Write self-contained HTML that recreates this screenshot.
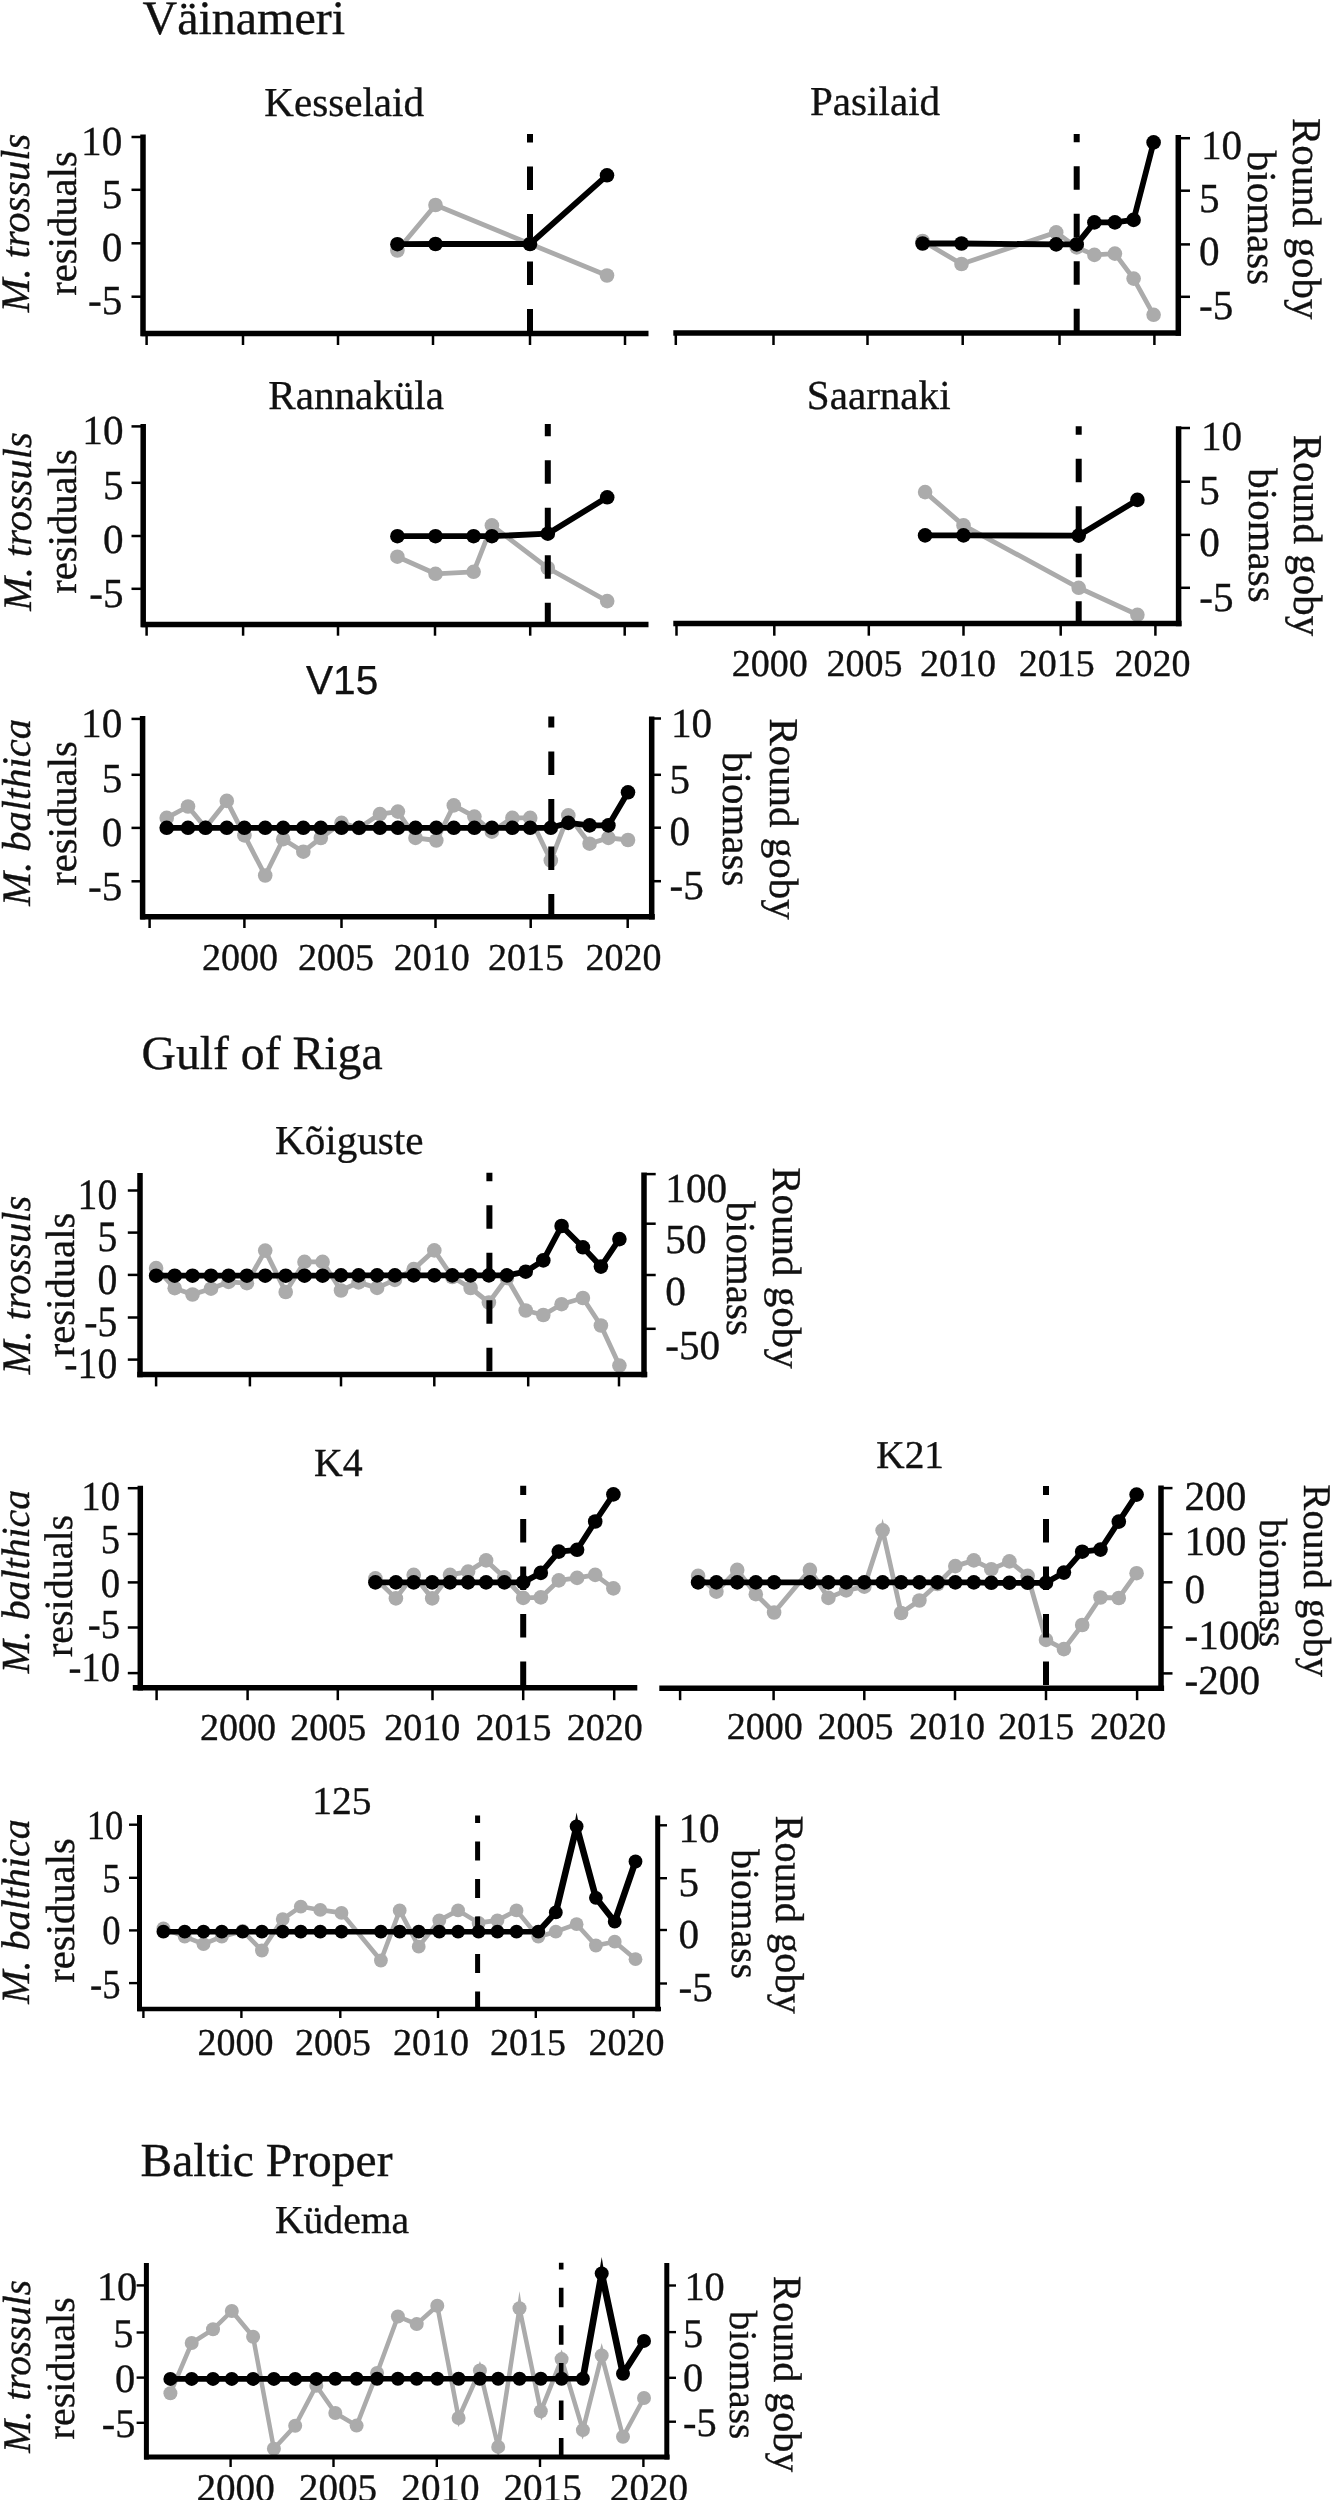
<!DOCTYPE html>
<html lang="en">
<head>
<meta charset="utf-8">
<title>Round goby biomass and bivalve residuals</title>
<style>
html,body{margin:0;padding:0;background:#fff;}
body{width:1333px;height:2500px;overflow:hidden;}
svg{display:block;will-change:transform;}
svg text{stroke:#111;stroke-width:0.35px;}
</style>
</head>
<body>
<svg width="1333" height="2500" viewBox="0 0 1333 2500" font-family='"Liberation Serif", "Times New Roman", serif' fill="#111" text-rendering="geometricPrecision">
<text x="142.5" y="34" font-size="48" text-anchor="start">Väinameri</text>
<text x="141.5" y="1068.9" font-size="47.7" text-anchor="start">Gulf of Riga</text>
<text x="140.5" y="2176.4" font-size="47.5" text-anchor="start">Baltic Proper</text>
<g>
<path d="M397.4 250.5 L435.5 205 L607 275.5" fill="none" stroke="#ababab" stroke-width="4.8" stroke-linejoin="round" stroke-linecap="round"/>
<circle cx="397.4" cy="250.5" r="7.3" fill="#ababab"/>
<circle cx="435.5" cy="205" r="7.3" fill="#ababab"/>
<circle cx="607" cy="275.5" r="7.3" fill="#ababab"/>
<line x1="530" y1="134" x2="530" y2="333.6" stroke="#000" stroke-width="6" stroke-dasharray="23.5 24" stroke-dashoffset="15"/>
<path d="M397.4 244.2 L435.5 244 L530 244 L607 175.3" fill="none" stroke="#000" stroke-width="5.8" stroke-linejoin="round" stroke-linecap="round"/>
<circle cx="397.4" cy="244.2" r="7.3" fill="#000"/>
<circle cx="435.5" cy="244" r="7.3" fill="#000"/>
<circle cx="530" cy="244" r="7.3" fill="#000"/>
<circle cx="607" cy="175.3" r="7.3" fill="#000"/>
<line x1="141.5" y1="333.6" x2="648.5" y2="333.6" stroke="#000" stroke-width="5.5"/>
<line x1="146.6" y1="333.6" x2="146.6" y2="345" stroke="#000" stroke-width="2.5"/>
<line x1="243" y1="333.6" x2="243" y2="345" stroke="#000" stroke-width="2.5"/>
<line x1="338" y1="333.6" x2="338" y2="345" stroke="#000" stroke-width="2.5"/>
<line x1="433" y1="333.6" x2="433" y2="345" stroke="#000" stroke-width="2.5"/>
<line x1="530" y1="333.6" x2="530" y2="345" stroke="#000" stroke-width="2.5"/>
<line x1="625" y1="333.6" x2="625" y2="345" stroke="#000" stroke-width="2.5"/>
<line x1="143" y1="134.6" x2="143" y2="336.35" stroke="#000" stroke-width="5.5"/>
<line x1="131.5" y1="137" x2="142" y2="137" stroke="#000" stroke-width="2.5"/>
<line x1="131.5" y1="189.8" x2="142" y2="189.8" stroke="#000" stroke-width="2.5"/>
<line x1="131.5" y1="243.3" x2="142" y2="243.3" stroke="#000" stroke-width="2.5"/>
<line x1="131.5" y1="296.7" x2="142" y2="296.7" stroke="#000" stroke-width="2.5"/>
<text x="122.3" y="155" font-size="41.2" text-anchor="end">10</text>
<text x="122.3" y="207.8" font-size="41.2" text-anchor="end">5</text>
<text x="122.3" y="260.7" font-size="41.2" text-anchor="end">0</text>
<text x="122.3" y="314" font-size="41.2" text-anchor="end">-5</text>
<text x="264.3" y="115.5" font-size="41.1" text-anchor="start">Kesselaid</text>
<text transform="translate(29.4 223) rotate(-90)" font-size="40.5" text-anchor="middle" font-style="italic">M. trossuls</text>
<text transform="translate(75.6 223.5) rotate(-90)" font-size="40.7" text-anchor="middle">residuals</text>
</g>
<g>
<path d="M922.6 241 L961.5 264 L1056.2 232.4 L1076.7 247.4 L1094.4 254.9 L1114.9 253.6 L1133.6 278.6 L1153.6 314.8" fill="none" stroke="#ababab" stroke-width="4.8" stroke-linejoin="round" stroke-linecap="round"/>
<circle cx="922.6" cy="241" r="7.3" fill="#ababab"/>
<circle cx="961.5" cy="264" r="7.3" fill="#ababab"/>
<circle cx="1056.2" cy="232.4" r="7.3" fill="#ababab"/>
<circle cx="1076.7" cy="247.4" r="7.3" fill="#ababab"/>
<circle cx="1094.4" cy="254.9" r="7.3" fill="#ababab"/>
<circle cx="1114.9" cy="253.6" r="7.3" fill="#ababab"/>
<circle cx="1133.6" cy="278.6" r="7.3" fill="#ababab"/>
<circle cx="1153.6" cy="314.8" r="7.3" fill="#ababab"/>
<line x1="1076.7" y1="134" x2="1076.7" y2="333.1" stroke="#000" stroke-width="6" stroke-dasharray="23.5 24" stroke-dashoffset="15.3"/>
<path d="M922.6 243.5 L961.5 243.5 L1056.2 244.4 L1076.7 244.4 L1094.4 222.4 L1114.9 222.4 L1133.6 219.9 L1153.6 142.4" fill="none" stroke="#000" stroke-width="5.8" stroke-linejoin="round" stroke-linecap="round"/>
<circle cx="922.6" cy="243.5" r="7.3" fill="#000"/>
<circle cx="961.5" cy="243.5" r="7.3" fill="#000"/>
<circle cx="1056.2" cy="244.4" r="7.3" fill="#000"/>
<circle cx="1076.7" cy="244.4" r="7.3" fill="#000"/>
<circle cx="1094.4" cy="222.4" r="7.3" fill="#000"/>
<circle cx="1114.9" cy="222.4" r="7.3" fill="#000"/>
<circle cx="1133.6" cy="219.9" r="7.3" fill="#000"/>
<circle cx="1153.6" cy="142.4" r="7.3" fill="#000"/>
<line x1="673.3" y1="333.1" x2="1181" y2="333.1" stroke="#000" stroke-width="5.5"/>
<line x1="675.8" y1="333.1" x2="675.8" y2="345" stroke="#000" stroke-width="2.5"/>
<line x1="773.5" y1="333.1" x2="773.5" y2="345" stroke="#000" stroke-width="2.5"/>
<line x1="867.5" y1="333.1" x2="867.5" y2="345" stroke="#000" stroke-width="2.5"/>
<line x1="962.7" y1="333.1" x2="962.7" y2="345" stroke="#000" stroke-width="2.5"/>
<line x1="1059.5" y1="333.1" x2="1059.5" y2="345" stroke="#000" stroke-width="2.5"/>
<line x1="1154.4" y1="333.1" x2="1154.4" y2="345" stroke="#000" stroke-width="2.5"/>
<line x1="1178.3" y1="135" x2="1178.3" y2="335.85" stroke="#000" stroke-width="5.5"/>
<line x1="1180" y1="138.2" x2="1190" y2="138.2" stroke="#000" stroke-width="2.5"/>
<line x1="1180" y1="190.7" x2="1190" y2="190.7" stroke="#000" stroke-width="2.5"/>
<line x1="1180" y1="244.4" x2="1190" y2="244.4" stroke="#000" stroke-width="2.5"/>
<line x1="1180" y1="296.8" x2="1190" y2="296.8" stroke="#000" stroke-width="2.5"/>
<text x="1201" y="159" font-size="41.2" text-anchor="start">10</text>
<text x="1199" y="211.8" font-size="41.2" text-anchor="start">5</text>
<text x="1199" y="265" font-size="41.2" text-anchor="start">0</text>
<text x="1199" y="318.7" font-size="41.2" text-anchor="start">-5</text>
<text x="810" y="115" font-size="41.1" text-anchor="start">Pasilaid</text>
<text transform="translate(1292.5 218.7) rotate(90)" font-size="41" text-anchor="middle">Round goby</text>
<text transform="translate(1247.5 218) rotate(90)" font-size="41" text-anchor="middle">biomass</text>
</g>
<g>
<path d="M397.4 556.7 L435.5 573.8 L473.6 571.8 L491.9 525.4 L547.8 568 L607.2 601.1" fill="none" stroke="#ababab" stroke-width="4.8" stroke-linejoin="round" stroke-linecap="round"/>
<circle cx="397.4" cy="556.7" r="7.3" fill="#ababab"/>
<circle cx="435.5" cy="573.8" r="7.3" fill="#ababab"/>
<circle cx="473.6" cy="571.8" r="7.3" fill="#ababab"/>
<circle cx="491.9" cy="525.4" r="7.3" fill="#ababab"/>
<circle cx="547.8" cy="568" r="7.3" fill="#ababab"/>
<circle cx="607.2" cy="601.1" r="7.3" fill="#ababab"/>
<line x1="547.8" y1="423.9" x2="547.8" y2="624.4" stroke="#000" stroke-width="6" stroke-dasharray="23.5 24" stroke-dashoffset="11.1"/>
<path d="M397.4 536.2 L435.5 536.2 L473.6 536.2 L491.9 536.2 L547.8 533.7 L607.2 497.3" fill="none" stroke="#000" stroke-width="5.8" stroke-linejoin="round" stroke-linecap="round"/>
<circle cx="397.4" cy="536.2" r="7.3" fill="#000"/>
<circle cx="435.5" cy="536.2" r="7.3" fill="#000"/>
<circle cx="473.6" cy="536.2" r="7.3" fill="#000"/>
<circle cx="491.9" cy="536.2" r="7.3" fill="#000"/>
<circle cx="547.8" cy="533.7" r="7.3" fill="#000"/>
<circle cx="607.2" cy="497.3" r="7.3" fill="#000"/>
<line x1="141.5" y1="624.4" x2="648.5" y2="624.4" stroke="#000" stroke-width="5.5"/>
<line x1="146.6" y1="624.4" x2="146.6" y2="635.7" stroke="#000" stroke-width="2.5"/>
<line x1="243.1" y1="624.4" x2="243.1" y2="635.7" stroke="#000" stroke-width="2.5"/>
<line x1="338" y1="624.4" x2="338" y2="635.7" stroke="#000" stroke-width="2.5"/>
<line x1="435" y1="624.4" x2="435" y2="635.7" stroke="#000" stroke-width="2.5"/>
<line x1="530.2" y1="624.4" x2="530.2" y2="635.7" stroke="#000" stroke-width="2.5"/>
<line x1="624.7" y1="624.4" x2="624.7" y2="635.7" stroke="#000" stroke-width="2.5"/>
<line x1="143.2" y1="423.9" x2="143.2" y2="627.15" stroke="#000" stroke-width="5.5"/>
<line x1="131.5" y1="426.4" x2="142" y2="426.4" stroke="#000" stroke-width="2.5"/>
<line x1="131.5" y1="482.8" x2="142" y2="482.8" stroke="#000" stroke-width="2.5"/>
<line x1="131.5" y1="536" x2="142" y2="536" stroke="#000" stroke-width="2.5"/>
<line x1="131.5" y1="588.8" x2="142" y2="588.8" stroke="#000" stroke-width="2.5"/>
<text x="123.5" y="443.5" font-size="41.2" text-anchor="end">10</text>
<text x="123.5" y="499.1" font-size="41.2" text-anchor="end">5</text>
<text x="123.5" y="553" font-size="41.2" text-anchor="end">0</text>
<text x="123.5" y="606.9" font-size="41.2" text-anchor="end">-5</text>
<text x="268.3" y="408.9" font-size="41.1" text-anchor="start">Rannaküla</text>
<text transform="translate(30.5 521.6) rotate(-90)" font-size="40.5" text-anchor="middle" font-style="italic">M. trossuls</text>
<text transform="translate(76.3 521.5) rotate(-90)" font-size="40.7" text-anchor="middle">residuals</text>
</g>
<g>
<path d="M925.1 492.1 L963.5 525.4 L1078.7 587.8 L1137.4 614.8" fill="none" stroke="#ababab" stroke-width="4.8" stroke-linejoin="round" stroke-linecap="round"/>
<circle cx="925.1" cy="492.1" r="7.3" fill="#ababab"/>
<circle cx="963.5" cy="525.4" r="7.3" fill="#ababab"/>
<circle cx="1078.7" cy="587.8" r="7.3" fill="#ababab"/>
<circle cx="1137.4" cy="614.8" r="7.3" fill="#ababab"/>
<line x1="1078.7" y1="426.2" x2="1078.7" y2="623.5" stroke="#000" stroke-width="6" stroke-dasharray="23.5 24" stroke-dashoffset="15"/>
<path d="M925.1 535.4 L963.5 535.4 L1078.7 535.6 L1137.4 499.9" fill="none" stroke="#000" stroke-width="5.8" stroke-linejoin="round" stroke-linecap="round"/>
<circle cx="925.1" cy="535.4" r="7.3" fill="#000"/>
<circle cx="963.5" cy="535.4" r="7.3" fill="#000"/>
<circle cx="1078.7" cy="535.6" r="7.3" fill="#000"/>
<circle cx="1137.4" cy="499.9" r="7.3" fill="#000"/>
<line x1="673.3" y1="623.5" x2="1181.6" y2="623.5" stroke="#000" stroke-width="5.5"/>
<line x1="676.5" y1="623.5" x2="676.5" y2="635.7" stroke="#000" stroke-width="2.5"/>
<line x1="774.3" y1="623.5" x2="774.3" y2="635.7" stroke="#000" stroke-width="2.5"/>
<line x1="868.8" y1="623.5" x2="868.8" y2="635.7" stroke="#000" stroke-width="2.5"/>
<line x1="963.5" y1="623.5" x2="963.5" y2="635.7" stroke="#000" stroke-width="2.5"/>
<line x1="1060.7" y1="623.5" x2="1060.7" y2="635.7" stroke="#000" stroke-width="2.5"/>
<line x1="1155.4" y1="623.5" x2="1155.4" y2="635.7" stroke="#000" stroke-width="2.5"/>
<line x1="1178.6" y1="426.2" x2="1178.6" y2="626.25" stroke="#000" stroke-width="5.5"/>
<line x1="1180" y1="428" x2="1190" y2="428" stroke="#000" stroke-width="2.5"/>
<line x1="1180" y1="481.7" x2="1190" y2="481.7" stroke="#000" stroke-width="2.5"/>
<line x1="1180" y1="534.9" x2="1190" y2="534.9" stroke="#000" stroke-width="2.5"/>
<line x1="1180" y1="587.8" x2="1190" y2="587.8" stroke="#000" stroke-width="2.5"/>
<text x="1201" y="450.2" font-size="41.2" text-anchor="start">10</text>
<text x="1199.2" y="503.6" font-size="41.2" text-anchor="start">5</text>
<text x="1199.2" y="555.8" font-size="41.2" text-anchor="start">0</text>
<text x="1199.2" y="611" font-size="41.2" text-anchor="start">-5</text>
<text transform="translate(769.8 676) scale(1 1)" font-size="38" text-anchor="middle">2000</text>
<text transform="translate(864.4 676) scale(1 1)" font-size="38" text-anchor="middle">2005</text>
<text transform="translate(958.1 676) scale(1 1)" font-size="38" text-anchor="middle">2010</text>
<text transform="translate(1056.7 676) scale(1 1)" font-size="38" text-anchor="middle">2015</text>
<text transform="translate(1152.4 676) scale(1 1)" font-size="38" text-anchor="middle">2020</text>
<text x="806.8" y="408.9" font-size="41.1" text-anchor="start">Saarnaki</text>
<text transform="translate(1293.7 535.5) rotate(90)" font-size="41" text-anchor="middle">Round goby</text>
<text transform="translate(1248.7 535.5) rotate(90)" font-size="41" text-anchor="middle">biomass</text>
</g>
<g>
<path d="M166.7 817.9 L188 806.5 L205.5 827.8 L226.8 800.9 L244.4 835.4 L265.2 875.5 L283.2 839.2 L303.3 851.7 L320.8 838 L341.5 822.9 L359 828 L379.9 814.1 L397.9 811.6 L415.5 837.9 L436.3 840.5 L453.8 805.4 L474.4 816.6 L491.9 831.7 L512.4 817.9 L530.2 817.9 L550.8 860.5 L568.3 815.4 L589.6 843.7 L608.4 837.9 L628 840" fill="none" stroke="#ababab" stroke-width="4.8" stroke-linejoin="round" stroke-linecap="round"/>
<circle cx="166.7" cy="817.9" r="7.3" fill="#ababab"/>
<circle cx="188" cy="806.5" r="7.3" fill="#ababab"/>
<circle cx="205.5" cy="827.8" r="7.3" fill="#ababab"/>
<circle cx="226.8" cy="800.9" r="7.3" fill="#ababab"/>
<circle cx="244.4" cy="835.4" r="7.3" fill="#ababab"/>
<circle cx="265.2" cy="875.5" r="7.3" fill="#ababab"/>
<circle cx="283.2" cy="839.2" r="7.3" fill="#ababab"/>
<circle cx="303.3" cy="851.7" r="7.3" fill="#ababab"/>
<circle cx="320.8" cy="838" r="7.3" fill="#ababab"/>
<circle cx="341.5" cy="822.9" r="7.3" fill="#ababab"/>
<circle cx="359" cy="828" r="7.3" fill="#ababab"/>
<circle cx="379.9" cy="814.1" r="7.3" fill="#ababab"/>
<circle cx="397.9" cy="811.6" r="7.3" fill="#ababab"/>
<circle cx="415.5" cy="837.9" r="7.3" fill="#ababab"/>
<circle cx="436.3" cy="840.5" r="7.3" fill="#ababab"/>
<circle cx="453.8" cy="805.4" r="7.3" fill="#ababab"/>
<circle cx="474.4" cy="816.6" r="7.3" fill="#ababab"/>
<circle cx="491.9" cy="831.7" r="7.3" fill="#ababab"/>
<circle cx="512.4" cy="817.9" r="7.3" fill="#ababab"/>
<circle cx="530.2" cy="817.9" r="7.3" fill="#ababab"/>
<circle cx="550.8" cy="860.5" r="7.3" fill="#ababab"/>
<circle cx="568.3" cy="815.4" r="7.3" fill="#ababab"/>
<circle cx="589.6" cy="843.7" r="7.3" fill="#ababab"/>
<circle cx="608.4" cy="837.9" r="7.3" fill="#ababab"/>
<circle cx="628" cy="840" r="7.3" fill="#ababab"/>
<line x1="551.3" y1="716.4" x2="551.3" y2="916.8" stroke="#000" stroke-width="6" stroke-dasharray="23.5 24" stroke-dashoffset="12.4"/>
<path d="M166.7 827.8 L188 827.8 L205.5 827.8 L226.8 827.8 L244.4 827.8 L265.2 827.8 L283.2 827.8 L303.3 827.8 L320.8 827.8 L341.5 827.8 L359 827.8 L379.9 827.8 L397.9 827.8 L415.5 827.8 L436.3 827.8 L453.8 827.8 L474.4 827.8 L491.9 827.8 L512.4 827.8 L530.2 827.8 L550.8 827.8 L568.3 822.9 L589.6 825.4 L608.4 825.4 L628 792.3" fill="none" stroke="#000" stroke-width="5.8" stroke-linejoin="round" stroke-linecap="round"/>
<circle cx="166.7" cy="827.8" r="7.3" fill="#000"/>
<circle cx="188" cy="827.8" r="7.3" fill="#000"/>
<circle cx="205.5" cy="827.8" r="7.3" fill="#000"/>
<circle cx="226.8" cy="827.8" r="7.3" fill="#000"/>
<circle cx="244.4" cy="827.8" r="7.3" fill="#000"/>
<circle cx="265.2" cy="827.8" r="7.3" fill="#000"/>
<circle cx="283.2" cy="827.8" r="7.3" fill="#000"/>
<circle cx="303.3" cy="827.8" r="7.3" fill="#000"/>
<circle cx="320.8" cy="827.8" r="7.3" fill="#000"/>
<circle cx="341.5" cy="827.8" r="7.3" fill="#000"/>
<circle cx="359" cy="827.8" r="7.3" fill="#000"/>
<circle cx="379.9" cy="827.8" r="7.3" fill="#000"/>
<circle cx="397.9" cy="827.8" r="7.3" fill="#000"/>
<circle cx="415.5" cy="827.8" r="7.3" fill="#000"/>
<circle cx="436.3" cy="827.8" r="7.3" fill="#000"/>
<circle cx="453.8" cy="827.8" r="7.3" fill="#000"/>
<circle cx="474.4" cy="827.8" r="7.3" fill="#000"/>
<circle cx="491.9" cy="827.8" r="7.3" fill="#000"/>
<circle cx="512.4" cy="827.8" r="7.3" fill="#000"/>
<circle cx="530.2" cy="827.8" r="7.3" fill="#000"/>
<circle cx="550.8" cy="827.8" r="7.3" fill="#000"/>
<circle cx="568.3" cy="822.9" r="7.3" fill="#000"/>
<circle cx="589.6" cy="825.4" r="7.3" fill="#000"/>
<circle cx="608.4" cy="825.4" r="7.3" fill="#000"/>
<circle cx="628" cy="792.3" r="7.3" fill="#000"/>
<line x1="140.4" y1="916.8" x2="654.8" y2="916.8" stroke="#000" stroke-width="5.5"/>
<line x1="149.6" y1="916.8" x2="149.6" y2="928" stroke="#000" stroke-width="2.5"/>
<line x1="244.4" y1="916.8" x2="244.4" y2="928" stroke="#000" stroke-width="2.5"/>
<line x1="341.5" y1="916.8" x2="341.5" y2="928" stroke="#000" stroke-width="2.5"/>
<line x1="435.5" y1="916.8" x2="435.5" y2="928" stroke="#000" stroke-width="2.5"/>
<line x1="530.7" y1="916.8" x2="530.7" y2="928" stroke="#000" stroke-width="2.5"/>
<line x1="627.7" y1="916.8" x2="627.7" y2="928" stroke="#000" stroke-width="2.5"/>
<line x1="142.6" y1="716" x2="142.6" y2="919.55" stroke="#000" stroke-width="5.5"/>
<line x1="131.5" y1="718.9" x2="142" y2="718.9" stroke="#000" stroke-width="2.5"/>
<line x1="131.5" y1="774.8" x2="142" y2="774.8" stroke="#000" stroke-width="2.5"/>
<line x1="131.5" y1="827.9" x2="142" y2="827.9" stroke="#000" stroke-width="2.5"/>
<line x1="131.5" y1="881.3" x2="142" y2="881.3" stroke="#000" stroke-width="2.5"/>
<text x="122.3" y="737" font-size="41.2" text-anchor="end">10</text>
<text x="122.3" y="792" font-size="41.2" text-anchor="end">5</text>
<text x="122.3" y="846" font-size="41.2" text-anchor="end">0</text>
<text x="122.3" y="900" font-size="41.2" text-anchor="end">-5</text>
<line x1="651.7" y1="716.4" x2="651.7" y2="919.55" stroke="#000" stroke-width="5.5"/>
<line x1="653" y1="718.5" x2="661" y2="718.5" stroke="#000" stroke-width="2.5"/>
<line x1="653" y1="774.8" x2="661" y2="774.8" stroke="#000" stroke-width="2.5"/>
<line x1="653" y1="827.7" x2="661" y2="827.7" stroke="#000" stroke-width="2.5"/>
<line x1="653" y1="881.2" x2="661" y2="881.2" stroke="#000" stroke-width="2.5"/>
<text x="671" y="736.5" font-size="41.2" text-anchor="start">10</text>
<text x="669.5" y="792.8" font-size="41.2" text-anchor="start">5</text>
<text x="669.5" y="845.2" font-size="41.2" text-anchor="start">0</text>
<text x="669.5" y="898.6" font-size="41.2" text-anchor="start">-5</text>
<text transform="translate(240 970) scale(1 1)" font-size="38" text-anchor="middle">2000</text>
<text transform="translate(336 970) scale(1 1)" font-size="38" text-anchor="middle">2005</text>
<text transform="translate(431.7 970) scale(1 1)" font-size="38" text-anchor="middle">2010</text>
<text transform="translate(526 970) scale(1 1)" font-size="38" text-anchor="middle">2015</text>
<text transform="translate(623.4 970) scale(1 1)" font-size="38" text-anchor="middle">2020</text>
<text x="306" y="693.8" font-size="40.6" text-anchor="start" font-family='"Liberation Sans", Arial, sans-serif'>V15</text>
<text transform="translate(30 812.3) rotate(-90)" font-size="40.5" text-anchor="middle" font-style="italic">M. balthica</text>
<text transform="translate(75.6 813.5) rotate(-90)" font-size="40.7" text-anchor="middle">residuals</text>
<text transform="translate(770.4 819) rotate(90)" font-size="41" text-anchor="middle">Round goby</text>
<text transform="translate(723.2 819.2) rotate(90)" font-size="41" text-anchor="middle">biomass</text>
</g>
<g>
<path d="M156.1 1268.1 L174.7 1288.2 L192.5 1294.5 L211 1288.7 L228.6 1281.9 L246.9 1283.2 L265.2 1250.6 L285.7 1292 L304.5 1261.9 L322.6 1261.9 L341 1290.5 L358.6 1282.4 L377.1 1287.9 L394.9 1279.9 L413.7 1269.1 L434.3 1250.4 L452.3 1277 L470.6 1288 L488.9 1302.5 L506.9 1278 L525.7 1310.5 L543.3 1315 L561.6 1304.2 L582.9 1298 L600.9 1325.5 L619.4 1365.6" fill="none" stroke="#ababab" stroke-width="4.8" stroke-linejoin="round" stroke-linecap="round"/>
<circle cx="156.1" cy="1268.1" r="7.3" fill="#ababab"/>
<circle cx="174.7" cy="1288.2" r="7.3" fill="#ababab"/>
<circle cx="192.5" cy="1294.5" r="7.3" fill="#ababab"/>
<circle cx="211" cy="1288.7" r="7.3" fill="#ababab"/>
<circle cx="228.6" cy="1281.9" r="7.3" fill="#ababab"/>
<circle cx="246.9" cy="1283.2" r="7.3" fill="#ababab"/>
<circle cx="265.2" cy="1250.6" r="7.3" fill="#ababab"/>
<circle cx="285.7" cy="1292" r="7.3" fill="#ababab"/>
<circle cx="304.5" cy="1261.9" r="7.3" fill="#ababab"/>
<circle cx="322.6" cy="1261.9" r="7.3" fill="#ababab"/>
<circle cx="341" cy="1290.5" r="7.3" fill="#ababab"/>
<circle cx="358.6" cy="1282.4" r="7.3" fill="#ababab"/>
<circle cx="377.1" cy="1287.9" r="7.3" fill="#ababab"/>
<circle cx="394.9" cy="1279.9" r="7.3" fill="#ababab"/>
<circle cx="413.7" cy="1269.1" r="7.3" fill="#ababab"/>
<circle cx="434.3" cy="1250.4" r="7.3" fill="#ababab"/>
<circle cx="452.3" cy="1277" r="7.3" fill="#ababab"/>
<circle cx="470.6" cy="1288" r="7.3" fill="#ababab"/>
<circle cx="488.9" cy="1302.5" r="7.3" fill="#ababab"/>
<circle cx="506.9" cy="1278" r="7.3" fill="#ababab"/>
<circle cx="525.7" cy="1310.5" r="7.3" fill="#ababab"/>
<circle cx="543.3" cy="1315" r="7.3" fill="#ababab"/>
<circle cx="561.6" cy="1304.2" r="7.3" fill="#ababab"/>
<circle cx="582.9" cy="1298" r="7.3" fill="#ababab"/>
<circle cx="600.9" cy="1325.5" r="7.3" fill="#ababab"/>
<circle cx="619.4" cy="1365.6" r="7.3" fill="#ababab"/>
<line x1="489.4" y1="1172.7" x2="489.4" y2="1374.6" stroke="#000" stroke-width="6" stroke-dasharray="23.5 24" stroke-dashoffset="15"/>
<path d="M156.1 1275.7 L174.7 1275.7 L192.5 1275.7 L211 1275.7 L228.6 1275.7 L246.9 1275.7 L265.2 1275.7 L285.7 1275.7 L304.5 1275.7 L322.6 1275.7 L341 1275.4 L358.6 1275.4 L377.1 1275.4 L394.9 1275.4 L413.7 1275.4 L434.3 1275.4 L452.3 1275.4 L470.6 1275.4 L488.9 1275.4 L506.9 1275.4 L525.7 1271.7 L543.3 1260.4 L561.6 1226 L582.9 1247.3 L600.9 1266.6 L619.4 1239.1" fill="none" stroke="#000" stroke-width="5.8" stroke-linejoin="round" stroke-linecap="round"/>
<circle cx="156.1" cy="1275.7" r="7.3" fill="#000"/>
<circle cx="174.7" cy="1275.7" r="7.3" fill="#000"/>
<circle cx="192.5" cy="1275.7" r="7.3" fill="#000"/>
<circle cx="211" cy="1275.7" r="7.3" fill="#000"/>
<circle cx="228.6" cy="1275.7" r="7.3" fill="#000"/>
<circle cx="246.9" cy="1275.7" r="7.3" fill="#000"/>
<circle cx="265.2" cy="1275.7" r="7.3" fill="#000"/>
<circle cx="285.7" cy="1275.7" r="7.3" fill="#000"/>
<circle cx="304.5" cy="1275.7" r="7.3" fill="#000"/>
<circle cx="322.6" cy="1275.7" r="7.3" fill="#000"/>
<circle cx="341" cy="1275.4" r="7.3" fill="#000"/>
<circle cx="358.6" cy="1275.4" r="7.3" fill="#000"/>
<circle cx="377.1" cy="1275.4" r="7.3" fill="#000"/>
<circle cx="394.9" cy="1275.4" r="7.3" fill="#000"/>
<circle cx="413.7" cy="1275.4" r="7.3" fill="#000"/>
<circle cx="434.3" cy="1275.4" r="7.3" fill="#000"/>
<circle cx="452.3" cy="1275.4" r="7.3" fill="#000"/>
<circle cx="470.6" cy="1275.4" r="7.3" fill="#000"/>
<circle cx="488.9" cy="1275.4" r="7.3" fill="#000"/>
<circle cx="506.9" cy="1275.4" r="7.3" fill="#000"/>
<circle cx="525.7" cy="1271.7" r="7.3" fill="#000"/>
<circle cx="543.3" cy="1260.4" r="7.3" fill="#000"/>
<circle cx="561.6" cy="1226" r="7.3" fill="#000"/>
<circle cx="582.9" cy="1247.3" r="7.3" fill="#000"/>
<circle cx="600.9" cy="1266.6" r="7.3" fill="#000"/>
<circle cx="619.4" cy="1239.1" r="7.3" fill="#000"/>
<line x1="137.3" y1="1374.6" x2="647.3" y2="1374.6" stroke="#000" stroke-width="5.5"/>
<line x1="156.1" y1="1374.6" x2="156.1" y2="1386.4" stroke="#000" stroke-width="2.5"/>
<line x1="249.9" y1="1374.6" x2="249.9" y2="1386.4" stroke="#000" stroke-width="2.5"/>
<line x1="341" y1="1374.6" x2="341" y2="1386.4" stroke="#000" stroke-width="2.5"/>
<line x1="434.3" y1="1374.6" x2="434.3" y2="1386.4" stroke="#000" stroke-width="2.5"/>
<line x1="528.2" y1="1374.6" x2="528.2" y2="1386.4" stroke="#000" stroke-width="2.5"/>
<line x1="619" y1="1374.6" x2="619" y2="1386.4" stroke="#000" stroke-width="2.5"/>
<line x1="140" y1="1172.9" x2="140" y2="1377.35" stroke="#000" stroke-width="5.5"/>
<line x1="127.8" y1="1190.5" x2="138" y2="1190.5" stroke="#000" stroke-width="2.5"/>
<line x1="127.8" y1="1232.6" x2="138" y2="1232.6" stroke="#000" stroke-width="2.5"/>
<line x1="127.8" y1="1274.9" x2="138" y2="1274.9" stroke="#000" stroke-width="2.5"/>
<line x1="127.8" y1="1317.5" x2="138" y2="1317.5" stroke="#000" stroke-width="2.5"/>
<line x1="127.8" y1="1359.6" x2="138" y2="1359.6" stroke="#000" stroke-width="2.5"/>
<text transform="translate(117.3 1209) scale(0.92 1)" font-size="43.2" text-anchor="end">10</text>
<text transform="translate(117.3 1251.2) scale(0.92 1)" font-size="43.2" text-anchor="end">5</text>
<text transform="translate(117.3 1293.6) scale(0.92 1)" font-size="43.2" text-anchor="end">0</text>
<text transform="translate(117.3 1336.3) scale(0.92 1)" font-size="43.2" text-anchor="end">-5</text>
<text transform="translate(117.3 1378.4) scale(0.92 1)" font-size="43.2" text-anchor="end">-10</text>
<line x1="644" y1="1172.6" x2="644" y2="1377.35" stroke="#000" stroke-width="5.5"/>
<line x1="646" y1="1174.1" x2="655.7" y2="1174.1" stroke="#000" stroke-width="2.5"/>
<line x1="646" y1="1223.7" x2="655.7" y2="1223.7" stroke="#000" stroke-width="2.5"/>
<line x1="646" y1="1275" x2="655.7" y2="1275" stroke="#000" stroke-width="2.5"/>
<line x1="646" y1="1328.8" x2="655.7" y2="1328.8" stroke="#000" stroke-width="2.5"/>
<text x="665.3" y="1201.8" font-size="41.2" text-anchor="start">100</text>
<text x="665.3" y="1252.9" font-size="41.2" text-anchor="start">50</text>
<text x="665.3" y="1304.7" font-size="41.2" text-anchor="start">0</text>
<text x="665.3" y="1358.7" font-size="41.2" text-anchor="start">-50</text>
<text x="275" y="1154" font-size="41.1" text-anchor="start">Kõiguste</text>
<text transform="translate(30 1285) rotate(-90)" font-size="40.5" text-anchor="middle" font-style="italic">M. trossuls</text>
<text transform="translate(74.4 1285) rotate(-90)" font-size="40.7" text-anchor="middle">residuals</text>
<text transform="translate(772.7 1268) rotate(90)" font-size="41" text-anchor="middle">Round goby</text>
<text transform="translate(726.6 1268.7) rotate(90)" font-size="41" text-anchor="middle">biomass</text>
</g>
<g>
<path d="M375.4 1578.4 L395.9 1598.4 L413.7 1574.9 L432.2 1598.4 L450 1574.9 L468.1 1571.6 L486.1 1560.4 L504.4 1577.4 L523.2 1597.9 L540.8 1597.4 L558.8 1580.4 L577.1 1577.9 L595.2 1574.9 L613.4 1588.4" fill="none" stroke="#ababab" stroke-width="4.8" stroke-linejoin="round" stroke-linecap="round"/>
<circle cx="375.4" cy="1578.4" r="7.3" fill="#ababab"/>
<circle cx="395.9" cy="1598.4" r="7.3" fill="#ababab"/>
<circle cx="413.7" cy="1574.9" r="7.3" fill="#ababab"/>
<circle cx="432.2" cy="1598.4" r="7.3" fill="#ababab"/>
<circle cx="450" cy="1574.9" r="7.3" fill="#ababab"/>
<circle cx="468.1" cy="1571.6" r="7.3" fill="#ababab"/>
<circle cx="486.1" cy="1560.4" r="7.3" fill="#ababab"/>
<circle cx="504.4" cy="1577.4" r="7.3" fill="#ababab"/>
<circle cx="523.2" cy="1597.9" r="7.3" fill="#ababab"/>
<circle cx="540.8" cy="1597.4" r="7.3" fill="#ababab"/>
<circle cx="558.8" cy="1580.4" r="7.3" fill="#ababab"/>
<circle cx="577.1" cy="1577.9" r="7.3" fill="#ababab"/>
<circle cx="595.2" cy="1574.9" r="7.3" fill="#ababab"/>
<circle cx="613.4" cy="1588.4" r="7.3" fill="#ababab"/>
<line x1="523.2" y1="1485.7" x2="523.2" y2="1687.7" stroke="#000" stroke-width="6" stroke-dasharray="23.5 24" stroke-dashoffset="14.2"/>
<path d="M375.4 1582.4 L395.9 1582.4 L413.7 1582.4 L432.2 1582.4 L450 1582.4 L468.1 1582.4 L486.1 1582.4 L504.4 1582.4 L523.2 1582.4 L540.8 1572.9 L558.8 1551.6 L577.1 1549.8 L595.2 1521.5 L613.4 1494.4" fill="none" stroke="#000" stroke-width="5.8" stroke-linejoin="round" stroke-linecap="round"/>
<circle cx="375.4" cy="1582.4" r="7.3" fill="#000"/>
<circle cx="395.9" cy="1582.4" r="7.3" fill="#000"/>
<circle cx="413.7" cy="1582.4" r="7.3" fill="#000"/>
<circle cx="432.2" cy="1582.4" r="7.3" fill="#000"/>
<circle cx="450" cy="1582.4" r="7.3" fill="#000"/>
<circle cx="468.1" cy="1582.4" r="7.3" fill="#000"/>
<circle cx="486.1" cy="1582.4" r="7.3" fill="#000"/>
<circle cx="504.4" cy="1582.4" r="7.3" fill="#000"/>
<circle cx="523.2" cy="1582.4" r="7.3" fill="#000"/>
<circle cx="540.8" cy="1572.9" r="7.3" fill="#000"/>
<circle cx="558.8" cy="1551.6" r="7.3" fill="#000"/>
<circle cx="577.1" cy="1549.8" r="7.3" fill="#000"/>
<circle cx="595.2" cy="1521.5" r="7.3" fill="#000"/>
<circle cx="613.4" cy="1494.4" r="7.3" fill="#000"/>
<line x1="132.8" y1="1687.7" x2="637.3" y2="1687.7" stroke="#000" stroke-width="5.5"/>
<line x1="156.6" y1="1687.7" x2="156.6" y2="1700.2" stroke="#000" stroke-width="2.5"/>
<line x1="247.6" y1="1687.7" x2="247.6" y2="1700.2" stroke="#000" stroke-width="2.5"/>
<line x1="337.8" y1="1687.7" x2="337.8" y2="1700.2" stroke="#000" stroke-width="2.5"/>
<line x1="432.5" y1="1687.7" x2="432.5" y2="1700.2" stroke="#000" stroke-width="2.5"/>
<line x1="523.2" y1="1687.7" x2="523.2" y2="1700.2" stroke="#000" stroke-width="2.5"/>
<line x1="614.2" y1="1687.7" x2="614.2" y2="1700.2" stroke="#000" stroke-width="2.5"/>
<line x1="140.3" y1="1485.7" x2="140.3" y2="1690.45" stroke="#000" stroke-width="5.5"/>
<line x1="127.8" y1="1488.2" x2="138" y2="1488.2" stroke="#000" stroke-width="2.5"/>
<line x1="127.8" y1="1534" x2="138" y2="1534" stroke="#000" stroke-width="2.5"/>
<line x1="127.8" y1="1582.4" x2="138" y2="1582.4" stroke="#000" stroke-width="2.5"/>
<line x1="127.8" y1="1627.5" x2="138" y2="1627.5" stroke="#000" stroke-width="2.5"/>
<line x1="127.8" y1="1673.1" x2="138" y2="1673.1" stroke="#000" stroke-width="2.5"/>
<text transform="translate(120 1510.2) scale(0.94 1)" font-size="41.2" text-anchor="end">10</text>
<text transform="translate(120 1552.8) scale(0.94 1)" font-size="41.2" text-anchor="end">5</text>
<text transform="translate(120 1596.7) scale(0.94 1)" font-size="41.2" text-anchor="end">0</text>
<text transform="translate(120 1638) scale(0.94 1)" font-size="41.2" text-anchor="end">-5</text>
<text transform="translate(120 1680.6) scale(0.94 1)" font-size="41.2" text-anchor="end">-10</text>
<text transform="translate(238 1739.5) scale(1 1)" font-size="38" text-anchor="middle">2000</text>
<text transform="translate(328.3 1739.5) scale(1 1)" font-size="38" text-anchor="middle">2005</text>
<text transform="translate(422.3 1739.5) scale(1 1)" font-size="38" text-anchor="middle">2010</text>
<text transform="translate(513.6 1739.5) scale(1 1)" font-size="38" text-anchor="middle">2015</text>
<text transform="translate(604.7 1739.5) scale(1 1)" font-size="38" text-anchor="middle">2020</text>
<text x="314" y="1476.4" font-size="39.8" text-anchor="start">K4</text>
<text transform="translate(28.5 1581.6) rotate(-90)" font-size="39.8" text-anchor="middle" font-style="italic">M. balthica</text>
<text transform="translate(71.6 1586) rotate(-90)" font-size="40" text-anchor="middle">residuals</text>
</g>
<g>
<path d="M698.1 1575.9 L716.4 1591.7 L737.2 1569.9 L755.8 1594.2 L774.1 1612.5 L809.9 1569.9 L828.4 1597.9 L846.2 1590.4 L864.3 1586.7 L882.6 1530.3 L901.1 1613 L919.4 1600.5 L937.5 1584 L955.3 1566.1 L973.8 1560.4 L991.3 1569.2 L1009.4 1561.4 L1027.7 1575.8 L1046 1639.9 L1063.9 1649.1 L1082.2 1625 L1100.5 1597.5 L1118.8 1598 L1136.6 1573.2" fill="none" stroke="#ababab" stroke-width="4.8" stroke-linejoin="round" stroke-linecap="round"/>
<circle cx="698.1" cy="1575.9" r="7.3" fill="#ababab"/>
<circle cx="716.4" cy="1591.7" r="7.3" fill="#ababab"/>
<circle cx="737.2" cy="1569.9" r="7.3" fill="#ababab"/>
<circle cx="755.8" cy="1594.2" r="7.3" fill="#ababab"/>
<circle cx="774.1" cy="1612.5" r="7.3" fill="#ababab"/>
<circle cx="809.9" cy="1569.9" r="7.3" fill="#ababab"/>
<circle cx="828.4" cy="1597.9" r="7.3" fill="#ababab"/>
<circle cx="846.2" cy="1590.4" r="7.3" fill="#ababab"/>
<circle cx="864.3" cy="1586.7" r="7.3" fill="#ababab"/>
<circle cx="882.6" cy="1530.3" r="7.3" fill="#ababab"/>
<circle cx="901.1" cy="1613" r="7.3" fill="#ababab"/>
<circle cx="919.4" cy="1600.5" r="7.3" fill="#ababab"/>
<circle cx="937.5" cy="1584" r="7.3" fill="#ababab"/>
<circle cx="955.3" cy="1566.1" r="7.3" fill="#ababab"/>
<circle cx="973.8" cy="1560.4" r="7.3" fill="#ababab"/>
<circle cx="991.3" cy="1569.2" r="7.3" fill="#ababab"/>
<circle cx="1009.4" cy="1561.4" r="7.3" fill="#ababab"/>
<circle cx="1027.7" cy="1575.8" r="7.3" fill="#ababab"/>
<circle cx="1046" cy="1639.9" r="7.3" fill="#ababab"/>
<circle cx="1063.9" cy="1649.1" r="7.3" fill="#ababab"/>
<circle cx="1082.2" cy="1625" r="7.3" fill="#ababab"/>
<circle cx="1100.5" cy="1597.5" r="7.3" fill="#ababab"/>
<circle cx="1118.8" cy="1598" r="7.3" fill="#ababab"/>
<circle cx="1136.6" cy="1573.2" r="7.3" fill="#ababab"/>
<line x1="1046" y1="1486" x2="1046" y2="1688.2" stroke="#000" stroke-width="6" stroke-dasharray="23.5 24" stroke-dashoffset="14.5"/>
<path d="M698.1 1582.4 L716.4 1582.4 L737.2 1582.4 L755.8 1582.4 L774.1 1582.4 L809.9 1582.4 L828.4 1582.4 L846.2 1582.4 L864.3 1582.4 L882.6 1582.4 L901.1 1582.4 L919.4 1582.4 L937.5 1582.4 L955.3 1582.4 L973.8 1582.4 L991.3 1582.8 L1009.4 1582.8 L1027.7 1582.8 L1046 1582.8 L1063.9 1572.6 L1082.2 1551.7 L1100.5 1549.6 L1118.8 1521.6 L1136.6 1494.6" fill="none" stroke="#000" stroke-width="5.8" stroke-linejoin="round" stroke-linecap="round"/>
<circle cx="698.1" cy="1582.4" r="7.3" fill="#000"/>
<circle cx="716.4" cy="1582.4" r="7.3" fill="#000"/>
<circle cx="737.2" cy="1582.4" r="7.3" fill="#000"/>
<circle cx="755.8" cy="1582.4" r="7.3" fill="#000"/>
<circle cx="774.1" cy="1582.4" r="7.3" fill="#000"/>
<circle cx="809.9" cy="1582.4" r="7.3" fill="#000"/>
<circle cx="828.4" cy="1582.4" r="7.3" fill="#000"/>
<circle cx="846.2" cy="1582.4" r="7.3" fill="#000"/>
<circle cx="864.3" cy="1582.4" r="7.3" fill="#000"/>
<circle cx="882.6" cy="1582.4" r="7.3" fill="#000"/>
<circle cx="901.1" cy="1582.4" r="7.3" fill="#000"/>
<circle cx="919.4" cy="1582.4" r="7.3" fill="#000"/>
<circle cx="937.5" cy="1582.4" r="7.3" fill="#000"/>
<circle cx="955.3" cy="1582.4" r="7.3" fill="#000"/>
<circle cx="973.8" cy="1582.4" r="7.3" fill="#000"/>
<circle cx="991.3" cy="1582.8" r="7.3" fill="#000"/>
<circle cx="1009.4" cy="1582.8" r="7.3" fill="#000"/>
<circle cx="1027.7" cy="1582.8" r="7.3" fill="#000"/>
<circle cx="1046" cy="1582.8" r="7.3" fill="#000"/>
<circle cx="1063.9" cy="1572.6" r="7.3" fill="#000"/>
<circle cx="1082.2" cy="1551.7" r="7.3" fill="#000"/>
<circle cx="1100.5" cy="1549.6" r="7.3" fill="#000"/>
<circle cx="1118.8" cy="1521.6" r="7.3" fill="#000"/>
<circle cx="1136.6" cy="1494.6" r="7.3" fill="#000"/>
<polygon points="880.8,1526 882.6,1518.5 884.4,1526" fill="#ababab"/>
<line x1="659.3" y1="1688.2" x2="1164.1" y2="1688.2" stroke="#000" stroke-width="5.5"/>
<line x1="680.1" y1="1688.2" x2="680.1" y2="1700.2" stroke="#000" stroke-width="2.5"/>
<line x1="773.6" y1="1688.2" x2="773.6" y2="1700.2" stroke="#000" stroke-width="2.5"/>
<line x1="864.3" y1="1688.2" x2="864.3" y2="1700.2" stroke="#000" stroke-width="2.5"/>
<line x1="955" y1="1688.2" x2="955" y2="1700.2" stroke="#000" stroke-width="2.5"/>
<line x1="1046" y1="1688.2" x2="1046" y2="1700.2" stroke="#000" stroke-width="2.5"/>
<line x1="1137.1" y1="1688.2" x2="1137.1" y2="1700.2" stroke="#000" stroke-width="2.5"/>
<line x1="1161" y1="1485.5" x2="1161" y2="1690.95" stroke="#000" stroke-width="5.5"/>
<line x1="1163" y1="1488.1" x2="1172.5" y2="1488.1" stroke="#000" stroke-width="2.5"/>
<line x1="1163" y1="1533.9" x2="1172.5" y2="1533.9" stroke="#000" stroke-width="2.5"/>
<line x1="1163" y1="1582.3" x2="1172.5" y2="1582.3" stroke="#000" stroke-width="2.5"/>
<line x1="1163" y1="1627.4" x2="1172.5" y2="1627.4" stroke="#000" stroke-width="2.5"/>
<line x1="1163" y1="1673.4" x2="1172.5" y2="1673.4" stroke="#000" stroke-width="2.5"/>
<text x="1184.5" y="1510.3" font-size="41.2" text-anchor="start">200</text>
<text x="1184.5" y="1554.8" font-size="41.2" text-anchor="start">100</text>
<text x="1184.5" y="1603.2" font-size="41.2" text-anchor="start">0</text>
<text x="1184.5" y="1649" font-size="41.2" text-anchor="start">-100</text>
<text x="1184.5" y="1693.6" font-size="41.2" text-anchor="start">-200</text>
<text transform="translate(764.7 1739.3) scale(1 1)" font-size="38" text-anchor="middle">2000</text>
<text transform="translate(855.5 1739.3) scale(1 1)" font-size="38" text-anchor="middle">2005</text>
<text transform="translate(947 1739.3) scale(1 1)" font-size="38" text-anchor="middle">2010</text>
<text transform="translate(1036.3 1739.3) scale(1 1)" font-size="38" text-anchor="middle">2015</text>
<text transform="translate(1128 1739.3) scale(1 1)" font-size="38" text-anchor="middle">2020</text>
<text x="876.3" y="1467.6" font-size="39.3" text-anchor="start">K21</text>
<text transform="translate(1304.4 1580.7) rotate(90)" font-size="39.2" text-anchor="middle">Round goby</text>
<text transform="translate(1259.6 1583) rotate(90)" font-size="39.2" text-anchor="middle">biomass</text>
</g>
<g>
<path d="M163.4 1928.4 L184.7 1936.7 L203.5 1944.2 L221.8 1936.7 L242.6 1931 L261.9 1950.5 L282.7 1919.1 L300.8 1906.6 L320.3 1909.9 L341.5 1912.9 L380.9 1960.5 L399.7 1910.4 L418.7 1946.7 L439.3 1920.4 L458.1 1910.4 L478.6 1922.9 L497.4 1920.4 L516.5 1910.4 L538.3 1936.7 L555.8 1931.7 L576.6 1924.2 L595.9 1945.5 L614.7 1941.7 L635.5 1959.2" fill="none" stroke="#ababab" stroke-width="4.6" stroke-linejoin="round" stroke-linecap="round"/>
<circle cx="163.4" cy="1928.4" r="6.9" fill="#ababab"/>
<circle cx="184.7" cy="1936.7" r="6.9" fill="#ababab"/>
<circle cx="203.5" cy="1944.2" r="6.9" fill="#ababab"/>
<circle cx="221.8" cy="1936.7" r="6.9" fill="#ababab"/>
<circle cx="242.6" cy="1931" r="6.9" fill="#ababab"/>
<circle cx="261.9" cy="1950.5" r="6.9" fill="#ababab"/>
<circle cx="282.7" cy="1919.1" r="6.9" fill="#ababab"/>
<circle cx="300.8" cy="1906.6" r="6.9" fill="#ababab"/>
<circle cx="320.3" cy="1909.9" r="6.9" fill="#ababab"/>
<circle cx="341.5" cy="1912.9" r="6.9" fill="#ababab"/>
<circle cx="380.9" cy="1960.5" r="6.9" fill="#ababab"/>
<circle cx="399.7" cy="1910.4" r="6.9" fill="#ababab"/>
<circle cx="418.7" cy="1946.7" r="6.9" fill="#ababab"/>
<circle cx="439.3" cy="1920.4" r="6.9" fill="#ababab"/>
<circle cx="458.1" cy="1910.4" r="6.9" fill="#ababab"/>
<circle cx="478.6" cy="1922.9" r="6.9" fill="#ababab"/>
<circle cx="497.4" cy="1920.4" r="6.9" fill="#ababab"/>
<circle cx="516.5" cy="1910.4" r="6.9" fill="#ababab"/>
<circle cx="538.3" cy="1936.7" r="6.9" fill="#ababab"/>
<circle cx="555.8" cy="1931.7" r="6.9" fill="#ababab"/>
<circle cx="576.6" cy="1924.2" r="6.9" fill="#ababab"/>
<circle cx="595.9" cy="1945.5" r="6.9" fill="#ababab"/>
<circle cx="614.7" cy="1941.7" r="6.9" fill="#ababab"/>
<circle cx="635.5" cy="1959.2" r="6.9" fill="#ababab"/>
<line x1="477.6" y1="1815.6" x2="477.6" y2="2009" stroke="#000" stroke-width="5" stroke-dasharray="19 18.5" stroke-dashoffset="11.6"/>
<path d="M136.17 1931.7 L153.92 1931.7 L169.58 1931.7 L184.83 1931.7 L202.17 1931.7 L218.25 1931.7 L235.58 1931.7 L250.67 1931.7 L266.92 1931.7 L284.58 1931.7 L317.42 1931.7 L333.08 1931.7 L348.92 1931.7 L366.08 1931.7 L381.75 1931.7 L398.83 1931.7 L414.5 1931.7 L430.42 1931.7 L448.58 1931.7 L463.17 1912.4 L480.5 1826.4 L496.58 1897.8 L512.25 1921.7 L529.58 1861.5" transform="scale(1.2 1)" fill="none" stroke="#000" stroke-width="5.5" stroke-linejoin="round" stroke-linecap="round"/>
<circle cx="163.4" cy="1931.7" r="6.9" fill="#000"/>
<circle cx="184.7" cy="1931.7" r="6.9" fill="#000"/>
<circle cx="203.5" cy="1931.7" r="6.9" fill="#000"/>
<circle cx="221.8" cy="1931.7" r="6.9" fill="#000"/>
<circle cx="242.6" cy="1931.7" r="6.9" fill="#000"/>
<circle cx="261.9" cy="1931.7" r="6.9" fill="#000"/>
<circle cx="282.7" cy="1931.7" r="6.9" fill="#000"/>
<circle cx="300.8" cy="1931.7" r="6.9" fill="#000"/>
<circle cx="320.3" cy="1931.7" r="6.9" fill="#000"/>
<circle cx="341.5" cy="1931.7" r="6.9" fill="#000"/>
<circle cx="380.9" cy="1931.7" r="6.9" fill="#000"/>
<circle cx="399.7" cy="1931.7" r="6.9" fill="#000"/>
<circle cx="418.7" cy="1931.7" r="6.9" fill="#000"/>
<circle cx="439.3" cy="1931.7" r="6.9" fill="#000"/>
<circle cx="458.1" cy="1931.7" r="6.9" fill="#000"/>
<circle cx="478.6" cy="1931.7" r="6.9" fill="#000"/>
<circle cx="497.4" cy="1931.7" r="6.9" fill="#000"/>
<circle cx="516.5" cy="1931.7" r="6.9" fill="#000"/>
<circle cx="538.3" cy="1931.7" r="6.9" fill="#000"/>
<circle cx="555.8" cy="1912.4" r="6.9" fill="#000"/>
<circle cx="576.6" cy="1826.4" r="6.9" fill="#000"/>
<circle cx="595.9" cy="1897.8" r="6.9" fill="#000"/>
<circle cx="614.7" cy="1921.7" r="6.9" fill="#000"/>
<circle cx="635.5" cy="1861.5" r="6.9" fill="#000"/>
<polygon points="574.8,1822 576.6,1812.5 578.4,1822" fill="#000"/>
<line x1="137.3" y1="2009" x2="661" y2="2009" stroke="#000" stroke-width="4.5"/>
<line x1="143.4" y1="2009" x2="143.4" y2="2018" stroke="#000" stroke-width="2.4"/>
<line x1="241.4" y1="2009" x2="241.4" y2="2018" stroke="#000" stroke-width="2.4"/>
<line x1="340.3" y1="2009" x2="340.3" y2="2018" stroke="#000" stroke-width="2.4"/>
<line x1="438" y1="2009" x2="438" y2="2018" stroke="#000" stroke-width="2.4"/>
<line x1="535.8" y1="2009" x2="535.8" y2="2018" stroke="#000" stroke-width="2.4"/>
<line x1="633.5" y1="2009" x2="633.5" y2="2018" stroke="#000" stroke-width="2.4"/>
<line x1="139.5" y1="1815.1" x2="139.5" y2="2011.25" stroke="#000" stroke-width="5"/>
<line x1="129" y1="1824.7" x2="138" y2="1824.7" stroke="#000" stroke-width="2.4"/>
<line x1="129" y1="1877.8" x2="138" y2="1877.8" stroke="#000" stroke-width="2.4"/>
<line x1="129" y1="1930.4" x2="138" y2="1930.4" stroke="#000" stroke-width="2.4"/>
<line x1="129" y1="1983.1" x2="138" y2="1983.1" stroke="#000" stroke-width="2.4"/>
<text transform="translate(123.4 1839) scale(0.89 1)" font-size="41.2" text-anchor="end">10</text>
<text transform="translate(120.6 1891.6) scale(0.89 1)" font-size="41.2" text-anchor="end">5</text>
<text transform="translate(120.6 1944.2) scale(0.89 1)" font-size="41.2" text-anchor="end">0</text>
<text transform="translate(120.6 1998.1) scale(0.89 1)" font-size="41.2" text-anchor="end">-5</text>
<line x1="657.7" y1="1815.5" x2="657.7" y2="2011.25" stroke="#000" stroke-width="5"/>
<line x1="660" y1="1825.3" x2="667" y2="1825.3" stroke="#000" stroke-width="2.4"/>
<line x1="660" y1="1878.2" x2="667" y2="1878.2" stroke="#000" stroke-width="2.4"/>
<line x1="660" y1="1930" x2="667" y2="1930" stroke="#000" stroke-width="2.4"/>
<line x1="660" y1="1983.5" x2="667" y2="1983.5" stroke="#000" stroke-width="2.4"/>
<text x="678.5" y="1842.2" font-size="41.2" text-anchor="start">10</text>
<text x="678.5" y="1896.2" font-size="41.2" text-anchor="start">5</text>
<text x="678.5" y="1947.9" font-size="41.2" text-anchor="start">0</text>
<text x="678.5" y="2000.8" font-size="41.2" text-anchor="start">-5</text>
<text transform="translate(235.6 2055) scale(1 1)" font-size="38" text-anchor="middle">2000</text>
<text transform="translate(333 2055) scale(1 1)" font-size="38" text-anchor="middle">2005</text>
<text transform="translate(431 2055) scale(1 1)" font-size="38" text-anchor="middle">2010</text>
<text transform="translate(527.9 2055) scale(1 1)" font-size="38" text-anchor="middle">2015</text>
<text transform="translate(626.6 2055) scale(1 1)" font-size="38" text-anchor="middle">2020</text>
<text x="312.3" y="1813.9" font-size="39.5" text-anchor="start">125</text>
<text transform="translate(28.6 1911.5) rotate(-90)" font-size="40" text-anchor="middle" font-style="italic">M. balthica</text>
<text transform="translate(73.7 1910.5) rotate(-90)" font-size="40.7" text-anchor="middle">residuals</text>
<text transform="translate(776 1914.6) rotate(90)" font-size="40.3" text-anchor="middle">Round goby</text>
<text transform="translate(732.2 1914) rotate(90)" font-size="39.6" text-anchor="middle">biomass</text>
</g>
<g>
<path d="M170.4 2393.2 L191.7 2343 L213 2329.3 L231.8 2311 L253.1 2336.8 L273.9 2448.8 L295.2 2425.8 L316.3 2385.7 L335.3 2413 L356.6 2425.6 L377.1 2373 L397.9 2316.5 L416.7 2324.1 L437.3 2305.8 L458.6 2418 L479.9 2370.4 L498.2 2446.9 L519.5 2308.3 L540.8 2411.3 L561.6 2359.1 L582.9 2430.1 L601.7 2355.4 L623 2436.8 L644 2398" fill="none" stroke="#ababab" stroke-width="4.5" stroke-linejoin="round" stroke-linecap="round"/>
<circle cx="170.4" cy="2393.2" r="7" fill="#ababab"/>
<circle cx="191.7" cy="2343" r="7" fill="#ababab"/>
<circle cx="213" cy="2329.3" r="7" fill="#ababab"/>
<circle cx="231.8" cy="2311" r="7" fill="#ababab"/>
<circle cx="253.1" cy="2336.8" r="7" fill="#ababab"/>
<circle cx="273.9" cy="2448.8" r="7" fill="#ababab"/>
<circle cx="295.2" cy="2425.8" r="7" fill="#ababab"/>
<circle cx="316.3" cy="2385.7" r="7" fill="#ababab"/>
<circle cx="335.3" cy="2413" r="7" fill="#ababab"/>
<circle cx="356.6" cy="2425.6" r="7" fill="#ababab"/>
<circle cx="377.1" cy="2373" r="7" fill="#ababab"/>
<circle cx="397.9" cy="2316.5" r="7" fill="#ababab"/>
<circle cx="416.7" cy="2324.1" r="7" fill="#ababab"/>
<circle cx="437.3" cy="2305.8" r="7" fill="#ababab"/>
<circle cx="458.6" cy="2418" r="7" fill="#ababab"/>
<circle cx="479.9" cy="2370.4" r="7" fill="#ababab"/>
<circle cx="498.2" cy="2446.9" r="7" fill="#ababab"/>
<circle cx="519.5" cy="2308.3" r="7" fill="#ababab"/>
<circle cx="540.8" cy="2411.3" r="7" fill="#ababab"/>
<circle cx="561.6" cy="2359.1" r="7" fill="#ababab"/>
<circle cx="582.9" cy="2430.1" r="7" fill="#ababab"/>
<circle cx="601.7" cy="2355.4" r="7" fill="#ababab"/>
<circle cx="623" cy="2436.8" r="7" fill="#ababab"/>
<circle cx="644" cy="2398" r="7" fill="#ababab"/>
<line x1="561.2" y1="2262.7" x2="561.2" y2="2457.1" stroke="#000" stroke-width="4.6" stroke-dasharray="19.5 18.1" stroke-dashoffset="12.6"/>
<path d="M142 2378.9 L159.75 2378.9 L177.5 2378.9 L193.17 2378.9 L210.92 2378.9 L228.25 2378.9 L246 2378.9 L263.58 2378.9 L279.42 2378.7 L297.17 2378.7 L314.25 2378.7 L331.58 2378.7 L347.25 2378.7 L364.42 2378.7 L382.17 2378.7 L399.92 2378.7 L415.17 2378.7 L432.92 2378.7 L450.67 2378.7 L468 2378.7 L485.75 2378.7 L501.42 2273.4 L519.17 2373.7 L536.67 2340.9" transform="scale(1.2 1)" fill="none" stroke="#000" stroke-width="5.6" stroke-linejoin="round" stroke-linecap="round"/>
<circle cx="170.4" cy="2378.9" r="7" fill="#000"/>
<circle cx="191.7" cy="2378.9" r="7" fill="#000"/>
<circle cx="213" cy="2378.9" r="7" fill="#000"/>
<circle cx="231.8" cy="2378.9" r="7" fill="#000"/>
<circle cx="253.1" cy="2378.9" r="7" fill="#000"/>
<circle cx="273.9" cy="2378.9" r="7" fill="#000"/>
<circle cx="295.2" cy="2378.9" r="7" fill="#000"/>
<circle cx="316.3" cy="2378.9" r="7" fill="#000"/>
<circle cx="335.3" cy="2378.7" r="7" fill="#000"/>
<circle cx="356.6" cy="2378.7" r="7" fill="#000"/>
<circle cx="377.1" cy="2378.7" r="7" fill="#000"/>
<circle cx="397.9" cy="2378.7" r="7" fill="#000"/>
<circle cx="416.7" cy="2378.7" r="7" fill="#000"/>
<circle cx="437.3" cy="2378.7" r="7" fill="#000"/>
<circle cx="458.6" cy="2378.7" r="7" fill="#000"/>
<circle cx="479.9" cy="2378.7" r="7" fill="#000"/>
<circle cx="498.2" cy="2378.7" r="7" fill="#000"/>
<circle cx="519.5" cy="2378.7" r="7" fill="#000"/>
<circle cx="540.8" cy="2378.7" r="7" fill="#000"/>
<circle cx="561.6" cy="2378.7" r="7" fill="#000"/>
<circle cx="582.9" cy="2378.7" r="7" fill="#000"/>
<circle cx="601.7" cy="2273.4" r="7" fill="#000"/>
<circle cx="623" cy="2373.7" r="7" fill="#000"/>
<circle cx="644" cy="2340.9" r="7" fill="#000"/>
<polygon points="599.9,2268 601.7,2257 603.5,2268" fill="#000"/>
<polygon points="517.7,2303 519.5,2291 521.3,2303" fill="#ababab"/>
<polygon points="599.9,2350 601.7,2343 603.5,2350" fill="#ababab"/>
<polygon points="559.8,2354 561.6,2349.5 563.4,2354" fill="#ababab"/>
<polygon points="539.7,2416 541.5,2420.5 543.3,2416" fill="#ababab"/>
<polygon points="580.8,2435 582.6,2439.5 584.4,2435" fill="#ababab"/>
<polygon points="456.8,2423 458.6,2427 460.4,2423" fill="#ababab"/>
<polygon points="496.4,2452 498.2,2456 500,2452" fill="#ababab"/>
<polygon points="478.1,2366 479.9,2361 481.7,2366" fill="#ababab"/>
<line x1="144.1" y1="2457.1" x2="669.6" y2="2457.1" stroke="#000" stroke-width="5"/>
<line x1="230.6" y1="2457.1" x2="230.6" y2="2467" stroke="#000" stroke-width="2.4"/>
<line x1="333.5" y1="2457.1" x2="333.5" y2="2467" stroke="#000" stroke-width="2.4"/>
<line x1="436.8" y1="2457.1" x2="436.8" y2="2467" stroke="#000" stroke-width="2.4"/>
<line x1="540" y1="2457.1" x2="540" y2="2467" stroke="#000" stroke-width="2.4"/>
<line x1="643.4" y1="2457.1" x2="643.4" y2="2467" stroke="#000" stroke-width="2.4"/>
<line x1="146.4" y1="2262.9" x2="146.4" y2="2459.6" stroke="#000" stroke-width="5"/>
<line x1="136.6" y1="2285.4" x2="145" y2="2285.4" stroke="#000" stroke-width="2.4"/>
<line x1="136.6" y1="2332.5" x2="145" y2="2332.5" stroke="#000" stroke-width="2.4"/>
<line x1="136.6" y1="2377.6" x2="145" y2="2377.6" stroke="#000" stroke-width="2.4"/>
<line x1="136.6" y1="2422.8" x2="145" y2="2422.8" stroke="#000" stroke-width="2.4"/>
<text x="137.3" y="2300" font-size="40.4" text-anchor="end">10</text>
<text x="133.5" y="2346.8" font-size="40.4" text-anchor="end">5</text>
<text x="135.3" y="2391.9" font-size="40.4" text-anchor="end">0</text>
<text x="135.5" y="2437" font-size="40.4" text-anchor="end">-5</text>
<line x1="666.8" y1="2263" x2="666.8" y2="2459.6" stroke="#000" stroke-width="5"/>
<line x1="668" y1="2285.5" x2="676" y2="2285.5" stroke="#000" stroke-width="2.4"/>
<line x1="668" y1="2332.1" x2="676" y2="2332.1" stroke="#000" stroke-width="2.4"/>
<line x1="668" y1="2377.8" x2="676" y2="2377.8" stroke="#000" stroke-width="2.4"/>
<line x1="668" y1="2421.7" x2="676" y2="2421.7" stroke="#000" stroke-width="2.4"/>
<text x="684.4" y="2299.5" font-size="40.4" text-anchor="start">10</text>
<text x="683" y="2347.4" font-size="40.4" text-anchor="start">5</text>
<text x="683" y="2391.3" font-size="40.4" text-anchor="start">0</text>
<text x="683" y="2436.3" font-size="40.4" text-anchor="start">-5</text>
<text transform="translate(235.6 2500.8) scale(1 1)" font-size="39.2" text-anchor="middle">2000</text>
<text transform="translate(338 2500.8) scale(1 1)" font-size="39.2" text-anchor="middle">2005</text>
<text transform="translate(440.5 2500.8) scale(1 1)" font-size="39.2" text-anchor="middle">2010</text>
<text transform="translate(542.6 2500.8) scale(1 1)" font-size="39.2" text-anchor="middle">2015</text>
<text transform="translate(649 2500.8) scale(1 1)" font-size="39.2" text-anchor="middle">2020</text>
<text x="275" y="2232.8" font-size="39.6" text-anchor="start">Küdema</text>
<text transform="translate(30.2 2366.4) rotate(-90)" font-size="39.2" text-anchor="middle" font-style="italic">M. trossuls</text>
<text transform="translate(73.9 2368.3) rotate(-90)" font-size="40" text-anchor="middle">residuals</text>
<text transform="translate(773.8 2374) rotate(90)" font-size="40" text-anchor="middle">Round goby</text>
<text transform="translate(730.1 2375) rotate(90)" font-size="39.2" text-anchor="middle">biomass</text>
</g>
</svg>
</body>
</html>
